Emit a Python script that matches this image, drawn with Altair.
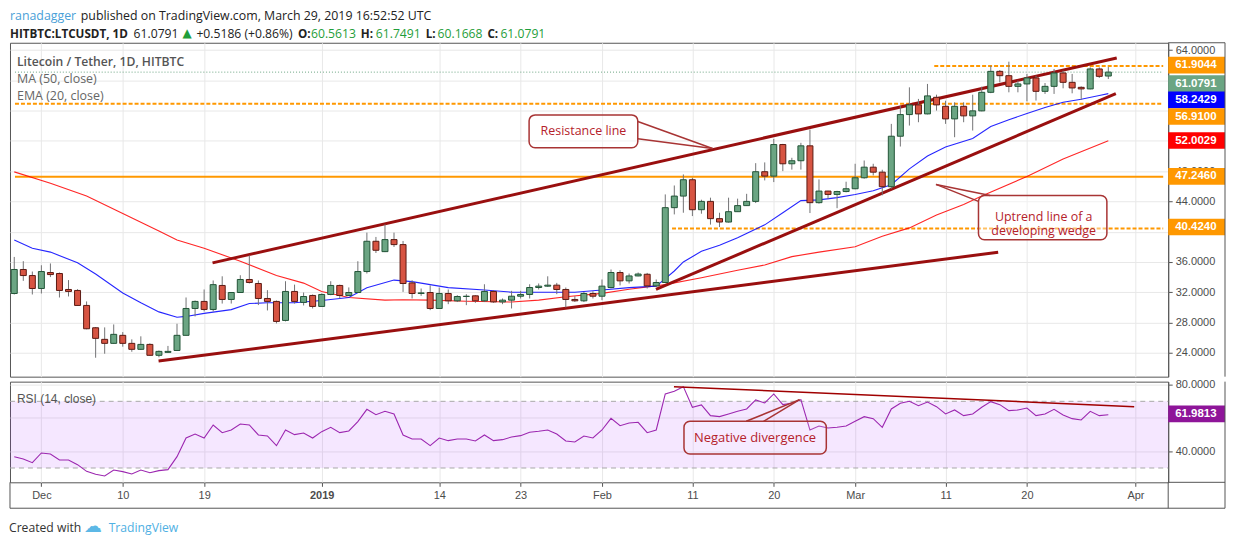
import altair as alt
import pandas as pd

FONT = "Open Sans"
AXIS_FONT = "Liberation Sans"
UP, UP_EDGE = "#6ba583", "#225437"
DOWN, DOWN_EDGE = "#d75442", "#5b1a13"
ORANGE = "#ff9800"
TREND = "#990f0f"
CALLOUT = "#a83434"
FRAME = "#555555"

# ---- daily candles, 2018-11-28 .. 2019-03-29 ----
dates = pd.date_range("2018-11-28", "2019-03-29", freq="D")
opens = [31.83, 35.0, 34.2, 32.49, 34.6, 34.47, 32.36, 32.23, 30.25, 27.3,
         25.77, 25.24, 26.3, 25.24, 24.45, 25.1, 23.66, 24.05, 24.3, 26.3,
         29.85, 30.78, 29.72, 32.89, 31.04, 31.96, 33.68, 33.15, 31.17, 30.78,
         28.27, 32.1, 30.65, 31.57, 30.12, 31.7, 32.89, 31.57, 31.96, 34.73,
         38.73, 37.36, 38.95, 38.29, 33.23, 31.83, 31.96, 29.85, 31.83, 30.86,
         31.43, 31.52, 30.86, 32.1, 30.72, 30.95, 31.47, 31.7, 32.62, 32.8,
         32.93, 32.36, 31.04, 30.86, 31.83, 31.47, 32.62, 34.6, 33.5, 34.15,
         34.37, 32.83, 33.28, 43.17, 44.7, 46.86, 42.9, 44.0, 41.72, 41.27,
         42.64, 43.44, 44.0, 47.92, 47.34, 51.51, 48.97, 49.37, 51.34, 43.83,
         45.36, 44.92, 45.3, 45.67, 47.12, 48.52, 47.86, 45.94, 52.61, 55.47,
         56.75, 55.56, 57.75, 56.56, 54.9, 56.56, 55.3, 55.96, 58.41, 61.18,
         60.61, 59.2, 59.52, 60.31, 58.54, 59.2, 60.97, 59.73, 59.07, 58.86,
         61.5, 60.5613]
highs = [36.66, 36.1, 34.73, 35.56, 35.8, 34.6, 33.6, 32.4, 30.78, 27.4,
         27.35, 27.74, 26.73, 25.77, 26.17, 25.24, 24.3, 24.9, 27.83, 31.3,
         30.9, 32.36, 33.55, 34.1, 32.0, 34.24, 36.88, 33.55, 32.27, 30.9,
         33.45, 33.0, 31.96, 31.7, 31.83, 33.45, 33.0, 32.63, 36.09, 39.87,
         39.3, 40.97, 39.87, 38.77, 33.58, 32.49, 32.9, 32.62, 32.36, 31.6,
         31.74, 31.6, 33.05, 32.27, 31.17, 32.18, 32.18, 33.05, 33.15, 34.1,
         33.23, 32.62, 31.47, 32.04, 32.13, 33.68, 35.0, 34.9, 34.47, 34.6,
         34.55, 33.68, 44.92, 46.1, 47.56, 47.12, 44.22, 44.49, 42.5, 44.49,
         44.36, 45.0, 49.05, 49.15, 52.26, 51.6, 49.76, 51.74, 53.49, 46.9,
         45.4, 45.4, 46.6, 48.97, 49.4, 48.97, 48.18, 54.24, 56.66, 59.07,
         57.54, 59.52, 58.1, 57.3, 57.09, 57.09, 58.1, 59.16, 61.93, 61.36,
         62.46, 59.95, 60.84, 60.61, 59.64, 61.5, 61.27, 60.84, 59.2, 61.71,
         61.71, 61.7491]
lows = [31.7, 33.5, 31.7, 31.83, 34.0, 31.3, 31.44, 30.2, 27.1, 23.34,
        23.87, 25.2, 24.8, 24.13, 24.36, 23.6, 23.4, 24.0, 24.3, 26.3,
        28.8, 29.46, 29.46, 30.5, 30.5, 31.9, 33.15, 30.3, 29.59, 27.88,
        28.14, 30.5, 30.25, 29.85, 30.1, 31.6, 31.17, 31.5, 31.9, 34.47,
        37.18, 37.3, 37.98, 32.04, 31.17, 31.52, 29.63, 29.8, 30.42, 30.7,
        30.29, 30.6, 30.7, 30.6, 30.42, 29.85, 31.17, 31.17, 32.36, 32.7,
        31.74, 29.98, 30.72, 30.7, 31.17, 30.95, 32.5, 32.9, 33.15, 34.1,
        32.49, 32.8, 33.2, 42.28, 42.5, 42.06, 42.37, 40.93, 40.61, 41.2,
        42.6, 43.4, 43.78, 46.77, 46.55, 48.0, 48.2, 48.2, 42.46, 43.7,
        44.3, 43.1, 45.2, 45.6, 47.0, 47.43, 44.8, 45.67, 51.25, 54.02,
        54.46, 55.5, 56.0, 54.24, 52.48, 54.46, 53.36, 55.9, 58.3, 59.73,
        58.41, 58.41, 57.22, 57.32, 58.2, 58.2, 58.94, 58.28, 57.41, 58.8,
        60.31, 60.1668]
closes = [35.0, 34.2, 32.49, 34.73, 34.33, 32.23, 32.1, 30.25, 27.17, 25.9,
          25.24, 26.43, 25.24, 24.45, 25.1, 23.66, 24.18, 24.18, 26.3, 29.85,
          30.78, 29.72, 33.0, 31.04, 31.96, 33.68, 33.28, 31.17, 30.78, 28.14,
          32.1, 30.78, 31.43, 30.12, 31.7, 32.89, 31.57, 31.96, 34.73, 38.73,
          37.54, 38.95, 38.29, 33.15, 31.83, 31.91, 29.85, 31.83, 30.86, 31.43,
          31.47, 30.86, 32.1, 30.72, 30.95, 31.47, 31.7, 32.62, 32.8, 32.93,
          32.36, 31.04, 30.86, 31.83, 31.47, 32.8, 34.6, 33.5, 34.15, 34.4,
          32.83, 33.28, 43.17, 44.7, 46.86, 42.9, 44.0, 41.72, 41.27, 42.64,
          43.44, 44.0, 47.92, 47.34, 51.51, 48.97, 49.37, 51.34, 43.83, 45.36,
          44.92, 45.3, 45.67, 47.12, 48.52, 47.86, 45.94, 52.61, 55.47, 56.75,
          55.56, 57.94, 56.75, 54.9, 56.56, 55.3, 55.96, 58.41, 61.18, 60.61,
          59.2, 59.52, 60.31, 58.54, 59.2, 60.97, 59.73, 58.99, 58.86, 61.5,
          60.52, 61.0791]
rsi = [36.8, 35.4, 33.2, 39.0, 38.4, 34.8, 34.8, 32.0, 28.0, 26.2,
       25.2, 28.8, 27.8, 26.4, 28.8, 27.2, 28.4, 29.0, 36.8, 48.0,
       50.4, 48.0, 55.8, 51.2, 52.8, 56.4, 55.8, 49.8, 49.2, 43.4,
       52.8, 50.0, 51.0, 48.0, 51.8, 54.4, 51.2, 52.2, 57.8, 65.2,
       62.0, 64.0, 62.4, 49.8, 47.4, 47.4, 43.4, 48.0, 46.4, 47.4,
       47.4, 46.2, 49.8, 46.4, 47.0, 48.6, 49.4, 51.4, 52.0, 52.8,
       50.4, 46.2, 45.6, 49.2, 48.0, 52.8, 59.8, 55.4, 57.0, 57.4,
       51.2, 52.8, 74.4, 76.0, 78.8, 66.4, 67.8, 61.4, 60.8, 62.4,
       64.0, 65.4, 70.8, 69.0, 74.4, 68.0, 68.8, 71.0, 52.8, 55.2,
       54.0, 54.4, 55.2, 58.0, 60.8, 59.6, 54.4, 65.4, 68.8, 70.0,
       67.4, 69.6, 66.8, 62.4, 64.8, 61.4, 62.4, 66.4, 69.8, 68.0,
       64.4, 64.8, 66.0, 61.4, 62.4, 65.2, 61.8, 59.6, 58.8, 64.0,
       61.4, 61.98]

# moving averages, read at these candle numbers
ema_idx = [0, 2, 4, 7, 9, 12, 14, 16, 18, 19, 21, 24, 26, 28, 31, 34, 37, 39, 42, 44,
           48, 52, 55, 58, 62, 65, 68, 71, 72, 73, 74, 76, 78, 80, 83, 85, 87, 89, 91, 93,
           95, 97, 99, 101, 103, 106, 108, 110, 112, 114, 116, 118, 120, 121]
ema_vals = [38.9, 37.8, 37.3, 35.9, 34.4, 31.9, 30.6, 29.4, 28.7, 28.8, 29.2, 29.7, 30.5,
            30.6, 30.6, 30.9, 31.3, 32.6, 33.6, 33.4, 32.6, 32.3, 32.0, 32.0, 32.0, 32.3,
            32.6, 32.8, 33.8, 34.8, 36.0, 37.4, 38.2, 39.2, 40.9, 42.5, 44.1, 44.2, 44.5,
            44.9, 45.4, 46.2, 48.3, 50.0, 51.2, 52.3, 53.9, 54.8, 55.6, 56.4, 57.1, 57.5,
            58.0, 58.2429]
ma_idx = [0, 4, 8, 12, 16, 18, 21, 25, 29, 32, 34, 37, 41, 43, 46, 50, 55, 58, 61, 65,
          68, 72, 76, 80, 83, 86, 89, 93, 96, 99, 102, 105, 107, 112, 116, 121]
ma_vals = [47.9, 46.4, 44.7, 42.4, 40.1, 38.9, 37.8, 36.1, 34.2, 33.2, 32.1, 31.3, 30.95,
           31.0, 30.95, 30.8, 30.7, 30.95, 31.4, 31.85, 32.4, 33.0, 33.9, 34.9, 35.6, 36.7,
           37.3, 38.0, 39.4, 40.5, 42.2, 43.6, 44.7, 47.3, 49.6, 52.0029]

# x positions below are days counted from 2019-01-01
tick_days = [-31, -22, -13, 0, 13, 22, 31, 41, 50, 59, 69, 78, 90]
tick_labels = ["Dec", "10", "19", "2019", "14", "23", "Feb", "11", "20", "Mar", "11", "20", "Apr"]
price_ticks = [24, 28, 32, 36, 40, 44, 48, 52, 56, 60, 64]
price_hidden = [40, 52, 56, 60]      # labels sitting under the price tags
rsi_ticks = [40, 60, 80]

# horizontal levels drawn on the chart
dashed_levels = [61.9044, 56.91, 40.424]
dashed_from = [67.75, -33.92, 38.75]
solid_levels = [47.246]
last_price = 61.0791

# drawn trend lines (start day, start price, end day, end price)
trend_lines = [(-12.07, 35.87, 87.93, 62.95),
               (-18.04, 22.9, 74.82, 37.28),
               (36.97, 32.36, 87.83, 58.23)]
rsi_trend = [(38.96, 78.8, 89.86, 66.8)]

# price-scale tags: text, where the tag sits, colour
tag_text = ["61.9044", "61.0791", "58.2429", "56.9100", "52.0029", "47.2460", "40.4240"]
tag_pos = [62.0, 59.56, 57.41, 55.21, 52.04, 47.3, 40.61]
tag_color = [ORANGE, UP, "#0000ff", ORANGE, "#ff0000", ORANGE, ORANGE]

# ---- frames ----
day0 = pd.Timestamp("2019-01-01")
days = (dates - day0).days
candles = pd.DataFrame({"d": days, "open": opens, "high": highs, "low": lows, "close": closes})
rsi_df = pd.DataFrame({"d": days, "rsi": rsi})
ema_df = pd.DataFrame({"d": [days[i] for i in ema_idx], "v": ema_vals})
ma_df = pd.DataFrame({"d": [days[i] for i in ma_idx], "v": ma_vals})

W, H_P, H_R = 1162, 335, 101
X_MIN, X_MAX = -33.92, 93.07
xs = alt.Scale(domain=[X_MIN, X_MAX], nice=False, zero=False)
ys = alt.Scale(domain=[20.84, 64.96], nice=False, zero=False)
rs = alt.Scale(domain=[21.41, 81.8], nice=False, zero=False)

x_grid = alt.Axis(values=tick_days, labels=False, ticks=False, domain=False, grid=True, title=None)
label_expr = " : ".join(f"datum.value == {d} ? '{t}'" for d, t in zip(tick_days, tick_labels)) + " : ''"
x_axis = alt.Axis(values=tick_days, labelExpr=label_expr, grid=True, domain=False, tickSize=4,
                  labelPadding=3, labelFlush=False, labelOverlap=False, title=None,
                  labelFontWeight={"condition": {"test": "datum.value == 0", "value": "bold"},
                                   "value": "normal"})
y_axis = alt.Axis(orient="right", values=price_ticks, title=None, tickSize=4, labelPadding=3,
                  labelExpr=f"indexof({price_hidden}, datum.value) >= 0 ? '' : format(datum.value, '.4f')")
r_axis = alt.Axis(orient="right", values=rsi_ticks, title=None, tickSize=4, labelPadding=3,
                  labelExpr="datum.value == 60 ? '' : format(datum.value, '.4f')")


def X(f, axis):
    return alt.X(f, scale=xs, axis=axis)


def YP(f):
    return alt.Y(f, scale=ys, axis=y_axis)


def YR(f):
    return alt.Y(f, scale=rs, axis=r_axis)


def px_text(rows, **kw):
    df = pd.DataFrame(rows, columns=["px", "py", "text", "color"])
    style = {"align": "left", "baseline": "middle", "font": FONT, "fontSize": 12.5}
    style.update(kw)
    return alt.Chart(df).mark_text(**style).encode(
        x=alt.X("px:Q", scale=None, axis=None),
        y=alt.Y("py:Q", scale=None, axis=None),
        text="text:N",
        color=alt.Color("color:N", scale=None),
    )


def frame(segs):
    df = pd.DataFrame(segs, columns=["x1", "y1", "x2", "y2"])
    return alt.Chart(df).mark_rule(color=FRAME, strokeWidth=1).encode(
        x=alt.X("x1:Q", scale=None, axis=None), y=alt.Y("y1:Q", scale=None, axis=None),
        x2="x2:Q", y2="y2:Q")


# ---- price pane ----
lvl_d = pd.DataFrame({"p": dashed_levels, "d": dashed_from, "d2": [X_MAX] * 3})
lvl_s = pd.DataFrame({"p": solid_levels, "d": [X_MIN], "d2": [X_MAX]})
lvl_last = pd.DataFrame({"p": [last_price], "d": [X_MIN], "d2": [X_MAX]})

dashed = alt.Chart(lvl_d).mark_rule(color=ORANGE, strokeWidth=2, strokeDash=[4, 2]).encode(
    x=X("d:Q", x_grid), x2="d2:Q", y=YP("p:Q"))
solid = alt.Chart(lvl_s).mark_rule(color=ORANGE, strokeWidth=2).encode(
    x=X("d:Q", x_grid), x2="d2:Q", y=YP("p:Q"))
last = alt.Chart(lvl_last).mark_rule(color=UP, strokeWidth=1, strokeDash=[1, 2]).encode(
    x=X("d:Q", x_grid), x2="d2:Q", y=YP("p:Q"))

ma_line = alt.Chart(ma_df).mark_line(color="#ff0000", strokeWidth=1.1, clip=True, opacity=0.85).encode(
    x=X("d:Q", x_grid), y=YP("v:Q"))
ema_line = alt.Chart(ema_df).mark_line(color="#0000ff", strokeWidth=1.1, clip=True, opacity=0.85).encode(
    x=X("d:Q", x_grid), y=YP("v:Q"))

tl = pd.DataFrame(trend_lines, columns=["d", "p", "d2", "p2"])
trends = alt.Chart(tl).mark_rule(color=TREND, strokeWidth=3).encode(
    x=X("d:Q", x_grid), y=YP("p:Q"), x2="d2:Q", y2="p2:Q")

wicks = alt.Chart(candles).mark_rule(color="#737375", strokeWidth=1, clip=True).encode(
    x=X("d:Q", x_grid), y=YP("low:Q"), y2="high:Q")
bodies = alt.Chart(candles).mark_bar(size=6, strokeWidth=1, clip=True).encode(
    x=X("d:Q", x_grid), y=YP("open:Q"), y2="close:Q",
    fill=alt.condition("datum.close >= datum.open", alt.value(UP), alt.value(DOWN)),
    stroke=alt.condition("datum.close >= datum.open", alt.value(UP_EDGE), alt.value(DOWN_EDGE)),
)

# callouts on the price pane
boxes = pd.DataFrame({"d": [22.94, 72.64], "d2": [34.96, 86.84],
                      "p": [55.43, 44.79], "p2": [51.08, 38.92]})
box_marks = alt.Chart(boxes).mark_rect(cornerRadius=6, fill="white", fillOpacity=0.4,
                                       stroke=CALLOUT, strokeWidth=1.5).encode(
    x=X("d:Q", x_grid), x2="d2:Q", y=YP("p:Q"), y2="p2:Q")
pointers = pd.DataFrame([(34.96, 54.55, 43.23, 50.99), (34.96, 52.27, 43.23, 50.99),
                         (73.94, 44.79, 67.94, 46.24), (72.64, 44.0, 67.94, 46.24)],
                        columns=["d", "p", "d2", "p2"])
pointer_marks = alt.Chart(pointers).mark_rule(color=CALLOUT, strokeWidth=1.5).encode(
    x=X("d:Q", x_grid), y=YP("p:Q"), x2="d2:Q", y2="p2:Q")
notes = pd.DataFrame({"d": [28.95, 79.85], "p": [53.3, 41.9],
                      "t": ["Resistance line", "Uptrend line of a\ndeveloping wedge"]})
note_marks = alt.Chart(notes).mark_text(font=FONT, fontSize=12.5, color="#b5222b",
                                        lineBreak="\n", lineHeight=14).encode(
    x=X("d:Q", x_grid), y=YP("p:Q"), text="t:N")

tags = pd.DataFrame({"t": tag_text, "p": tag_pos, "lo": [v - 1.1 for v in tag_pos],
                     "hi": [v + 1.1 for v in tag_pos], "c": tag_color})
tag_box = alt.Chart(tags).mark_rect().encode(
    x=alt.value(W), x2=alt.value(W + 57), y=YP("lo:Q"), y2="hi:Q", color=alt.Color("c:N", scale=None))
tag_txt = alt.Chart(tags).mark_text(align="left", baseline="middle", font=AXIS_FONT, fontSize=11.5,
                                    fontWeight="bold", color="white").encode(
    x=alt.value(W + 7), y=YP("p:Q"), text="t:N")

legend = px_text([(7, 19, "Litecoin / Tether, 1D, HITBTC", "#555555")], fontWeight=600, fontSize=12.2)
legend2 = px_text([(7, 36, "MA (50, close)", "#666666"), (7, 53, "EMA (20, close)", "#666666")])

GREEN_TXT = "#1f9e3a"
head_1 = px_text([(0, -27, "ranadagger", "#4a9fd8"),
                  (71, -27, "published on TradingView.com, March 29, 2019 16:52:52 UTC", "#222222")],
                 fontSize=12.4)
head_norm = px_text([(124, -9, "61.0791", "#222222"),
                     (187, -9, "+0.5186 (+0.86%)", "#222222"),
                     (302, -9, "60.5613", GREEN_TXT), (367, -9, "61.7491", GREEN_TXT),
                     (429, -9, "60.1668", GREEN_TXT), (492, -9, "61.0791", GREEN_TXT)],
                    fontSize=12.2)
head_bold = px_text([(0, -9, "HITBTC:LTCUSDT, 1D", "#222222"), (289, -9, "O:", "#222222"),
                     (352, -9, "H:", "#222222"), (417, -9, "L:", "#222222"),
                     (479, -9, "C:", "#222222")], fontWeight="bold", fontSize=11.7)
head_tri = px_text([(173, -10, "▲", GREEN_TXT)], font="DejaVu Sans", fontSize=12)

price_frame = frame([(W, 0, W + 57, 0), (W + 57, 0, W + 57, H_P)])

price = alt.layer(
    dashed, solid, last, ma_line, ema_line, trends, wicks, bodies,
    box_marks, pointer_marks, note_marks, tag_box, tag_txt,
    legend, legend2, head_1, head_norm, head_bold, head_tri, price_frame,
).properties(width=W, height=H_P)

# ---- RSI pane ----
band = alt.Chart(pd.DataFrame({"lo": [30], "hi": [70]})).mark_rect(color="#9915ff", opacity=0.1).encode(
    x=alt.value(0), x2=alt.value(W), y=YR("lo:Q"), y2="hi:Q")
band_lines = alt.Chart(pd.DataFrame({"v": [70, 30]})).mark_rule(
    color="#a8a8a8", strokeDash=[5, 4], strokeWidth=1).encode(
    x=alt.value(0), x2=alt.value(W), y=YR("v:Q"))
rsi_line = alt.Chart(rsi_df).mark_line(color="#9c27b0", strokeWidth=1.1, clip=True).encode(
    x=X("d:Q", x_axis), y=YR("rsi:Q"))
rt = pd.DataFrame(rsi_trend, columns=["d", "r", "d2", "r2"])
rsi_tr = alt.Chart(rt).mark_rule(color="#a00000", strokeWidth=1.5).encode(
    x=X("d:Q", x_axis), y=YR("r:Q"), x2="d2:Q", y2="r2:Q")
nbox = alt.Chart(pd.DataFrame({"d": [40.07], "d2": [55.81], "r": [58.0], "r2": [38.44]})).mark_rect(
    cornerRadius=6, fill="white", fillOpacity=0.15, stroke=CALLOUT, strokeWidth=1.5).encode(
    x=X("d:Q", x_axis), x2="d2:Q", y=YR("r:Q"), y2="r2:Q")
nptr = alt.Chart(pd.DataFrame([(46.95, 58.0, 52.85, 71.0), (48.87, 58.0, 52.85, 71.0)],
                              columns=["d", "r", "d2", "r2"])).mark_rule(
    color=CALLOUT, strokeWidth=1.5).encode(x=X("d:Q", x_axis), y=YR("r:Q"), x2="d2:Q", y2="r2:Q")
ntext = alt.Chart(pd.DataFrame({"d": [47.93], "r": [48.2], "t": ["Negative divergence"]})).mark_text(
    font=FONT, fontSize=13, color="#b5222b").encode(x=X("d:Q", x_axis), y=YR("r:Q"), text="t:N")

rsi_last = pd.DataFrame({"t": ["61.9813"], "p": [62.43], "lo": [57.43], "hi": [67.43]})
rtag_box = alt.Chart(rsi_last).mark_rect(color="#8e1599").encode(
    x=alt.value(W), x2=alt.value(W + 57), y=YR("lo:Q"), y2="hi:Q")
rtag_txt = alt.Chart(rsi_last).mark_text(align="left", baseline="middle", font=AXIS_FONT,
                                         fontSize=11.5, fontWeight="bold", color="white").encode(
    x=alt.value(W + 7), y=YR("p:Q"), text="t:N")

rsi_label = px_text([(7, 17, "RSI (14, close)", "#555555")], font=AXIS_FONT, fontSize=12)
footer = px_text([(-1, 147, "Created with", "#333333"), (99, 147, "TradingView", "#4fb0e3")],
                 fontSize=12.2)
logo = px_text([(74, 146, "☁", "#5cb8e6")], font="DejaVu Sans", fontSize=18)

rsi_frame = frame([(W + 57, 0, W + 57, 127), (W, H_R, W + 57, H_R), (0, 127, W + 57, 127),
                   (0, H_R, 0, 127), (W, H_R, W, 127)])

rsi_pane = alt.layer(
    band, band_lines, rsi_line, rsi_tr, nbox, nptr, ntext, rtag_box, rtag_txt,
    rsi_label, footer, logo, rsi_frame,
).properties(width=W, height=H_R)

chart = (
    alt.vconcat(price, rsi_pane, spacing=0)
    .resolve_scale(x="shared", y="independent")
    .properties(padding=0)
    .configure_view(stroke=FRAME, strokeWidth=1)
    .configure_axis(labelFont=AXIS_FONT, labelFontSize=11, labelColor="#4c4c4c",
                    tickColor=FRAME, domainColor=FRAME, gridColor="#e8e8e8")
)

chart.save("out.html", embed_options={"renderer": "svg", "actions": False})
